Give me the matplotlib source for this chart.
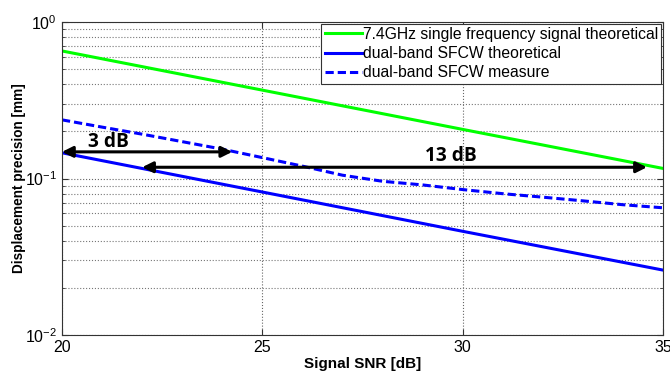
import matplotlib
matplotlib.use("Agg")
import matplotlib.pyplot as plt
from matplotlib.ticker import LogLocator, NullFormatter

# data
snr_theory = [20, 25, 30, 35]
single_freq = [0.653, 0.367, 0.206, 0.116]
dual_theory = [0.146, 0.082, 0.046, 0.026]

snr_meas = [20, 21, 22, 23, 24, 25, 26, 27, 28, 29, 30, 31, 32, 33, 34, 35]
dual_meas = [0.237, 0.213, 0.192, 0.172, 0.154, 0.136, 0.120, 0.105,
             0.096, 0.091, 0.085, 0.080, 0.076, 0.072, 0.068, 0.065]

# double arrows: (x_start, x_end, y, label, label_x, label_y)
gap_3db = (20.0, 24.25, 0.148, "3 dB", 21.15, 0.171)
gap_13db = (22.0, 34.6, 0.118, "13 dB", 29.7, 0.140)

plt.rcParams["font.family"] = ["Liberation Sans", "DejaVu Sans"]

fig = plt.figure(figsize=(6.7, 3.79), dpi=100)
ax = fig.add_axes([0.0925, 0.116, 0.897, 0.826])

ax.semilogy(snr_theory, single_freq, color="#00ff00", lw=2.2,
            label="7.4GHz single frequency signal theoretical")
ax.semilogy(snr_theory, dual_theory, color="#0000ff", lw=2.2,
            label="dual-band SFCW theoretical")
ax.semilogy(snr_meas, dual_meas, color="#0000ff", lw=2.2,
            dashes=(2.7, 1.3), label="dual-band SFCW measure")

for x0, x1, y, txt, tx, ty in (gap_3db, gap_13db):
    ax.annotate("", xy=(x1, y), xytext=(x0, y),
                arrowprops=dict(arrowstyle="<|-|>", color="black", lw=2.2,
                                mutation_scale=16, shrinkA=0, shrinkB=0))
    ax.text(tx, ty, txt, ha="center", va="center", fontsize=13.8,
            fontweight="bold", family=["Open Sans", "DejaVu Sans"])

ax.set_xlim(20, 35)
ax.set_ylim(1e-2, 1e0)
ax.set_xticks([20, 25, 30, 35])
ax.yaxis.set_major_locator(LogLocator(base=10, numticks=5))
ax.yaxis.set_minor_locator(LogLocator(base=10, subs=range(2, 10), numticks=20))
ax.yaxis.set_minor_formatter(NullFormatter())

ax.grid(True, which="major", linestyle=":", color="#666666", lw=0.8)
ax.grid(True, which="minor", axis="y", linestyle=":", color="#777777", lw=0.8)
ax.tick_params(which="both", direction="in", top=True, right=True,
               labelsize=11.5, color="#333333")
ax.tick_params(which="major", length=4)
ax.tick_params(which="minor", length=2)
for s in ax.spines.values():
    s.set_color("#333333")
    s.set_linewidth(0.8)

ax.set_xlabel("Signal SNR [dB]", fontsize=11, fontweight="bold")
ax.set_ylabel("Displacement precision [mm]", fontsize=9.8, fontweight="bold")
ax.xaxis.set_label_coords(0.5, -0.07)
ax.yaxis.set_label_coords(-0.06, 0.5)

leg = ax.legend(loc="upper right", fontsize=11.3, handlelength=2.4,
                handletextpad=0.05, borderpad=0.2, labelspacing=0.28,
                fancybox=False, framealpha=1, borderaxespad=0.1)
leg.get_frame().set_edgecolor("#333333")
leg.get_frame().set_linewidth(0.8)

fig.savefig("out.png", dpi=100)
